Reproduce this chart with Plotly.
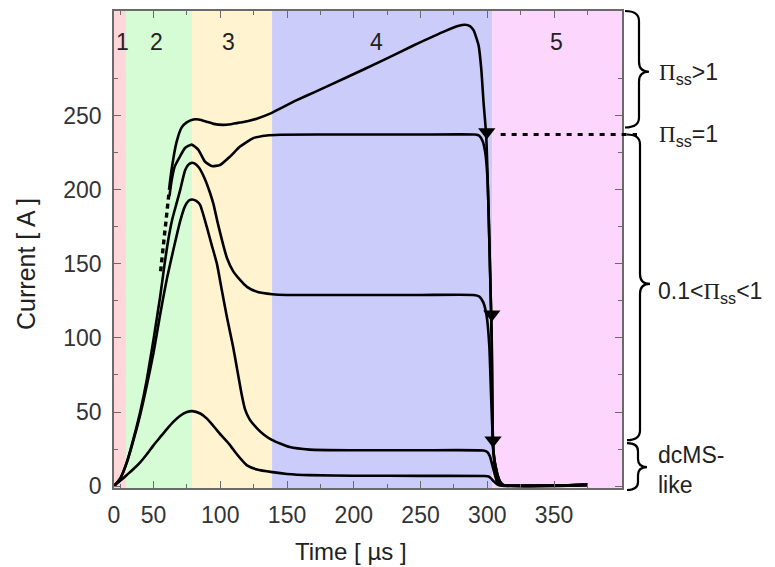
import plotly.graph_objects as go

# ---------------- data ----------------
phase_edges = [20.4, 29.4, 78.9, 138.8, 303.6, 400.9]
phase_names = ["1", "2", "3", "4", "5"]
phase_label_t = [26.4, 52.6, 105.8, 216.7, 351.5]
phase_colors = ["#ffd6da", "#d6fcd6", "#fff3d0", "#ccccfa", "#fdd6fd"]

# Pi_ss > 1
t_A = [61.6, 63.6, 67.2, 71, 74.8, 79.8, 84, 89.8, 95, 102.3, 108, 114.8, 121, 127.3, 137.3,
       147.3, 157.3, 169.8, 194.8, 219.8, 244.7, 269.6, 278, 283.3, 287, 289.8, 292, 293.5,
       295.5, 297.2, 299.2, 300.8, 302.1, 303.3, 303.8, 304.5, 307, 309.6, 312, 375]
i_A = [200, 214, 232, 242, 245.5, 247.5, 247.5, 246, 244.5, 243.8, 244.3, 245.4, 246.5, 248, 251.4,
       256, 260.5, 265.6, 276, 286.5, 297.4, 307.6, 310.5, 311.4, 310.5, 307.6, 302, 297.4,
       281.5, 259, 236.4, 191, 145, 100, 56, 24, 10, 3, 0.8, 0.8]
# Pi_ss = 1
t_B = [62, 63.5, 66, 70, 73.6, 78.6, 83.6, 88.6, 93.6, 99.8, 107.3, 114.8, 124.8, 134.8, 144.8,
       200, 250, 290.8, 294, 296.5, 298.5, 300, 300.8, 302.1, 303.3, 303.8, 304.5, 307, 309.6, 312, 375]
i_B = [196, 206, 216, 222.8, 228.2, 230.5, 227, 219, 216, 216.7, 222.4, 229.2, 234.9, 236.7, 237.2,
       237.3, 237.3, 237.3, 236.5, 233, 225, 210, 191, 145, 100, 56, 24, 10, 3, 0.8, 0.8]
# rising edge shared by the two upper curves (dashed)
t_rise = [55.3, 58.5, 61.6]
i_rise = [145, 172, 198]
# 0.1 < Pi_ss < 1 (upper)
t_C = [20.4, 25, 30, 35, 40, 45, 50, 55, 58, 61, 64, 67, 70, 73.6, 76, 78.6, 81, 84, 88.6, 92.3,
       95, 98, 102, 105, 109.5, 115, 120, 128, 139, 150, 200, 250, 289.7, 294, 297, 299.5, 301.5,
       302.5, 303.5, 304.5, 306, 308, 311, 375]
i_C = [0, 5, 16, 32, 50, 72, 99, 128, 148, 166, 180, 190, 200, 213, 216.8, 218.2, 217.6, 215, 207, 198,
       190, 178, 163.5, 154, 145.3, 139, 134.5, 131, 129.5, 129, 129, 129, 129, 128, 124, 115, 95,
       70, 45, 25, 10, 3, 0.8, 0.8]
# 0.1 < Pi_ss < 1 (lower)
t_D = [20.4, 25, 30, 35, 40, 45, 50, 55, 60, 65, 70, 73.6, 76.5, 79, 82, 84.8, 89.8, 93.5, 97.5, 101,
       105, 109.6, 113, 116, 118.5, 122, 127.5, 133, 139, 152, 167, 200, 250, 297, 300, 302, 304.5,
       306.5, 308.3, 375]
i_D = [0, 5, 16, 31, 48, 68, 90, 116, 140, 160, 179, 189, 192.8, 193.5, 192.5, 190, 175.3, 163, 150, 133,
       114, 94, 77, 62, 52, 45, 39, 34.5, 31, 26.3, 24.6, 24.2, 24.2, 24, 23, 20, 11.5, 5, 0.8, 0.8]
# dcMS-like
t_E = [20.4, 25, 30, 35, 40, 45, 50, 55, 60, 65, 70, 75, 79, 85, 90, 95, 101, 107, 112, 117, 120,
       127.5, 139, 150, 167, 200, 250, 298, 301, 303, 305, 308, 375]
i_E = [0, 3.5, 7.5, 11.5, 16, 21.5, 27.5, 33, 38.5, 43.5, 47.5, 50, 50.6, 49, 45.5, 40.4, 34, 28, 22,
       16.7, 14, 11.2, 9.4, 8.2, 7.4, 7, 6.9, 6.8, 6.5, 5, 3, 0.8, 0.8]

# arrowheads on the falling edges
arrow_t = [299.6, 303.4, 304.3]
arrow_i = [239, 116, 31]

# Pi_ss = 1 steady-state level
pi1_level = 237.3
pi1_t_start = 310

x_range = [20.4, 400.9]
y_range = [-1.3, 320.7]
x_tickvals = [20.4, 50, 100, 150, 200, 250, 300, 350]
x_ticktext = ["0", "50", "100", "150", "200", "250", "300", "350"]
x_minor = [25, 75, 125, 175, 225, 275, 325, 375]
y_tickvals = [0, 50, 100, 150, 200, 250]
y_minor = [25, 75, 125, 175, 225, 275]

PI = '<span style="font-family:Liberation Serif, Times New Roman, serif">Π</span>'
brace_labels = [PI + "<sub>ss</sub>&gt;1", PI + "<sub>ss</sub>=1",
                "0.1&lt;" + PI + "<sub>ss</sub>&lt;1", "dcMS-<br>like"]

# ---------------- figure ----------------
W, H = 775, 567
L, R, T, B = 114, 153, 9, 79
PW, PH = W - L - R, H - T - B


def px_to_paper(px, py):
    return (px - L) / PW, (H - B - py) / PH


def x_to_paper(x):
    return (x - x_range[0]) / (x_range[1] - x_range[0])


def y_to_paper(y):
    return (y - y_range[0]) / (y_range[1] - y_range[0])


fig = go.Figure()
line_style = dict(color="black", width=2.6, shape="spline", smoothing=0.5)
for tt, ii in [(t_E, i_E), (t_D, i_D), (t_C, i_C), (t_B, i_B), (t_A, i_A)]:
    fig.add_trace(go.Scatter(x=tt, y=ii, mode="lines", line=line_style, hoverinfo="skip"))
fig.add_trace(go.Scatter(x=t_rise, y=i_rise, mode="lines",
                         line=dict(color="black", width=3.4, dash="5px,4px"), hoverinfo="skip"))
fig.add_trace(go.Scatter(x=arrow_t, y=arrow_i, mode="markers",
                         marker=dict(symbol="triangle-down", size=15, color="black",
                                     line=dict(width=0)), hoverinfo="skip"))

shapes = []
for k in range(5):
    shapes.append(dict(type="rect", xref="x", yref="paper", x0=phase_edges[k], x1=phase_edges[k + 1],
                       y0=0, y1=1, fillcolor=phase_colors[k], line=dict(width=0), layer="below"))

# dashed Pi_ss=1 level extending past the frame
shapes.append(dict(type="line", xref="paper", yref="paper",
                   x0=x_to_paper(pi1_t_start), x1=px_to_paper(637, 0)[0],
                   y0=y_to_paper(pi1_level), y1=y_to_paper(pi1_level),
                   line=dict(color="black", width=3, dash="5px,6px")))


def brace(xl, xb, xt, y0, y1, ym, r=10):
    def p(x, y):
        a, b = px_to_paper(x, y)
        return f"{a:.5f},{b:.5f}"
    path = (f"M {p(xl, y0)} Q {p(xb, y0)} {p(xb, y0 + r)} L {p(xb, ym - r)} "
            f"Q {p(xb, ym)} {p(xt, ym)} Q {p(xb, ym)} {p(xb, ym + r)} L {p(xb, y1 - r)} "
            f"Q {p(xb, y1)} {p(xl, y1)}")
    return dict(type="path", xref="paper", yref="paper", path=path,
                line=dict(color="black", width=2.2))


shapes.append(brace(625, 639, 649, 9, 126, 70))
shapes.append(brace(627, 640, 650, 133, 440, 283))
shapes.append(brace(627, 638, 647, 443, 490, 467, r=8))

annotations = []
for name, tx in zip(phase_names, phase_label_t):
    annotations.append(dict(x=tx, y=300, xref="x", yref="y", text=name, showarrow=False,
                            font=dict(size=23, color="#222")))

label_pos = [(657, 72), (657, 134), (656, 292), (656, 470)]
for txt, (lx, ly) in zip(brace_labels, label_pos):
    ax, ay = px_to_paper(lx, ly)
    annotations.append(dict(x=ax, y=ay, xref="paper", yref="paper", text=txt, showarrow=False,
                            xanchor="left", yanchor="middle", align="left",
                            font=dict(size=23, color="#222")))

ax, ay = px_to_paper(351, 552)
annotations.append(dict(x=ax, y=ay, xref="paper", yref="paper", text="Time [ µs ]", showarrow=False,
                        xanchor="center", yanchor="middle", font=dict(size=24, color="#222")))
ax, ay = px_to_paper(26, 263)
annotations.append(dict(x=ax, y=ay, xref="paper", yref="paper", text="Current [ A ]", showarrow=False,
                        textangle=-90, xanchor="center", yanchor="middle",
                        font=dict(size=25, color="#222")))

axis_common = dict(showline=True, linecolor="#6a6a6a", linewidth=1.5, mirror="ticks",
                   ticks="inside", ticklen=7, tickwidth=1.3, tickcolor="#6a6a6a",
                   showgrid=False, zeroline=False, tickfont=dict(size=23, color="#333"))

fig.update_layout(
    width=W, height=H, margin=dict(l=L, r=R, t=T, b=B),
    paper_bgcolor="white", plot_bgcolor="white",
    showlegend=False,
    font=dict(family="Liberation Sans, Arial, sans-serif", size=23, color="#222"),
    xaxis=dict(range=x_range, tickmode="array", tickvals=x_tickvals, ticktext=x_ticktext,
               minor=dict(tickvals=x_minor, ticks="inside", ticklen=4, tickcolor="#6a6a6a",
                          tickwidth=1.3, showgrid=False),
               ticklabelstandoff=6, **axis_common),
    yaxis=dict(range=y_range, tickmode="array", tickvals=y_tickvals,
               minor=dict(tickvals=y_minor, ticks="inside", ticklen=4, tickcolor="#6a6a6a",
                          tickwidth=1.3, showgrid=False),
               ticklabelstandoff=6, **axis_common),
    shapes=shapes, annotations=annotations,
)

fig.write_html("out.html", config={"displayModeBar": False},
               post_script="document.body.style.margin='0px';document.body.style.overflow='hidden';")
